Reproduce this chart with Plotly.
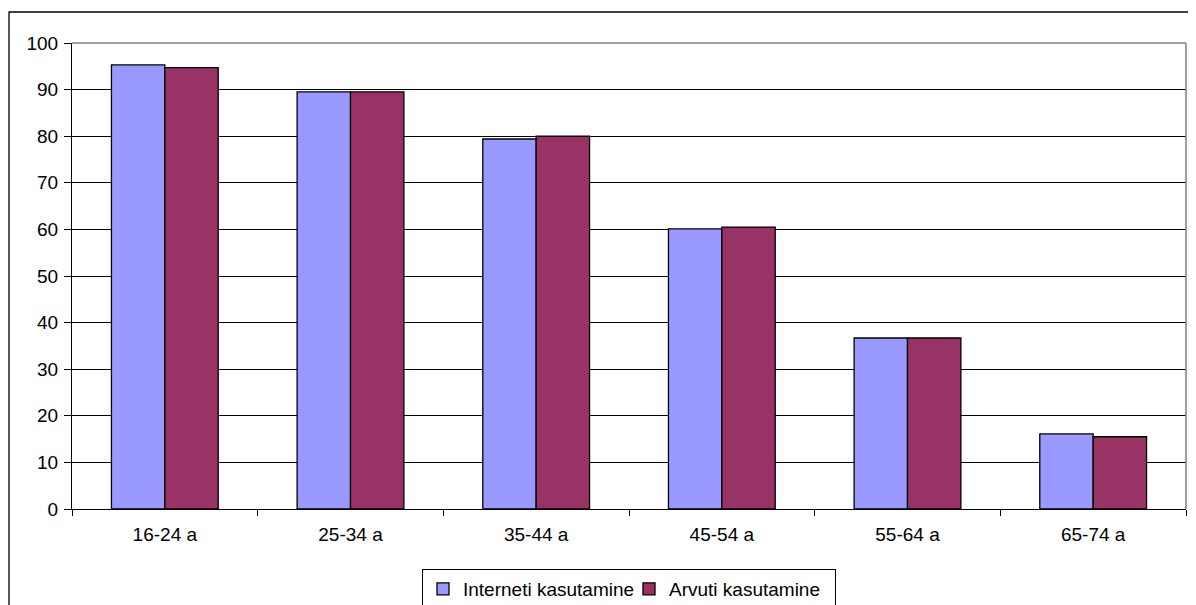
import plotly.graph_objects as go

categories = ["16-24 a", "25-34 a", "35-44 a", "45-54 a", "55-64 a", "65-74 a"]
internet = [95.3, 89.5, 79.4, 60.1, 36.7, 16.1]
arvuti = [94.7, 89.5, 80.0, 60.5, 36.7, 15.5]
series_names = ["Interneti kasutamine", "Arvuti kasutamine"]
y_ticks = [0, 10, 20, 30, 40, 50, 60, 70, 80, 90, 100]

# the page body has an 8px margin; figure placed at (8, 8)
OFF = 8
W, H = 1196 - OFF, 605 - OFF
# target plot area in window pixels: left 72, right 1186, top 43, bottom 509
L = 72 - OFF
T = 43 - OFF
R = OFF + W - 1186
B = OFF + H - 509
pw = W - L - R
ph = H - T - B

fig = go.Figure()
fig.add_trace(go.Bar(x=categories, y=internet, name=series_names[0],
                     marker=dict(color="#9999FF", line=dict(color="#000000", width=1.3))))
fig.add_trace(go.Bar(x=categories, y=arvuti, name=series_names[1],
                     marker=dict(color="#993366", line=dict(color="#000000", width=1.3))))

FS = 19
fig.update_layout(
    width=W, height=H,
    margin=dict(l=L, r=R, t=T, b=B, pad=0, autoexpand=False),
    paper_bgcolor="white", plot_bgcolor="white",
    barmode="group", bargap=0.425, bargroupgap=0,
    font=dict(family="Liberation Sans, Arial", size=FS, color="black"),
    showlegend=True,
    legend=dict(orientation="h", x=(629 - 72) / pw, xanchor="center",
                y=(509 - 569) / ph, yanchor="top",
                bordercolor="black", borderwidth=1, bgcolor="white",
                font=dict(size=FS), itemwidth=30, tracegroupgap=0,
                entrywidth=161, entrywidthmode="pixels"),
    xaxis=dict(showline=True, linecolor="black", linewidth=1,
               ticks="outside", ticklen=6, tickcolor="black",
               tickson="boundaries", showgrid=False,
               ticklabelstandoff=8,
               tickfont=dict(size=FS)),
    yaxis=dict(range=[0, 100], tickvals=y_ticks, showline=True, linecolor="black",
               linewidth=1, ticks="outside", ticklen=7, tickcolor="black",
               showgrid=True, gridcolor="#000000", gridwidth=1,
               ticklabelstandoff=2,
               zeroline=False, tickfont=dict(size=FS)),
    shapes=[
        dict(type="line", xref="paper", yref="paper", x0=1, x1=1, y0=0, y1=1,
             line=dict(color="#808080", width=1.5)),
        dict(type="line", xref="paper", yref="paper", x0=0, x1=1, y0=1, y1=1,
             line=dict(color="#808080", width=1.5)),
        # outer chart frame (left and top edges visible)
        dict(type="rect", xref="paper", yref="paper",
             x0=(1 - L) / pw, x1=(W + 20 - L) / pw,
             y0=-(H + 20 - (H - B)) / ph, y1=1 + (T - 4) / ph,
             line=dict(color="black", width=1.3), layer="below"),
    ],
)

fig.write_html("out.html")
